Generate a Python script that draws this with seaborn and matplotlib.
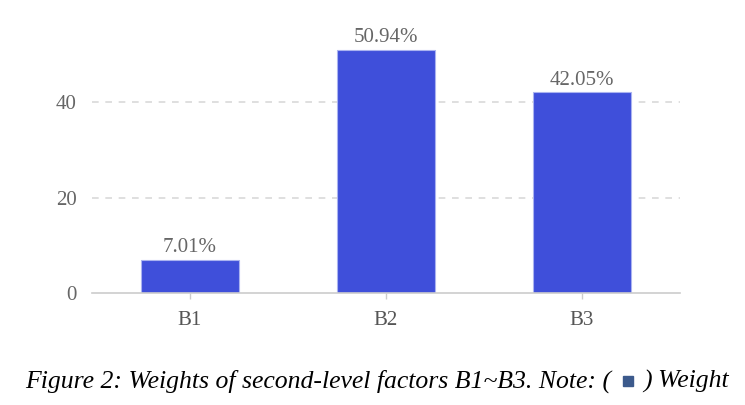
import matplotlib
matplotlib.use("Agg")
import matplotlib.pyplot as plt
import seaborn as sns
import pandas as pd

categories = ["B1", "B2", "B3"]
weights = [7.01, 50.94, 42.05]
labels = ["7.01%", "50.94%", "42.05%"]
yticks = [0, 20, 40]

sns.set_theme(style="white")
plt.rcParams['font.family'] = ['Liberation Serif', 'DejaVu Serif']

fig = plt.figure(figsize=(7.45, 4.05), dpi=100)
ax = fig.add_axes([92/745, 1-293/405, 588/745, (293-20)/405])

df = pd.DataFrame({"cat": categories, "w": weights})
bar_color = "#3f4fda"
sns.barplot(data=df, x="cat", y="w", color=bar_color, saturation=1, width=0.5,
            edgecolor="#aab3f0", linewidth=0.8, ax=ax)

ax.set_xlim(-0.5, 2.5)
ax.set_ylim(0, 57.2)
ax.set_yticks(yticks)
ax.set_yticklabels([str(v) for v in yticks], color="#666666", fontsize=15)
ax.set_xticks(range(len(categories)))
ax.set_xticklabels(categories, color="#555555", fontsize=15)
ax.set_xlabel("")
ax.set_ylabel("")
for y in yticks[1:]:
    ax.axhline(y, color="#d9d9d9", linestyle=(0, (4, 4)), linewidth=1.2, zorder=0)
for s in ["top", "right", "left"]:
    ax.spines[s].set_visible(False)
ax.spines["bottom"].set_color("#cccccc")
ax.spines["bottom"].set_linewidth(1.2)
ax.tick_params(axis="x", length=4, color="#cccccc", width=1, pad=9, bottom=True)
ax.tick_params(axis="y", length=0, pad=11)

for i, (v, lab) in enumerate(zip(weights, labels)):
    ax.text(i, v + 0.5, lab, ha="center", va="bottom", color="#666666", fontsize=15)

# caption
fig.canvas.draw()
r = fig.canvas.get_renderer()
cap_y = 1 - 381/405
x0 = 25/745
t1 = fig.text(x0, cap_y, "Figure 2: Weights of second-level factors B1~B3. Note: (",
              style="italic", fontsize=18.5, color="black", va="center", ha="left")
bb = t1.get_window_extent(renderer=r)
xs = bb.x1 / fig.bbox.width
sq_w = 10/745
sq_h = 10/405
fig.patches.append(plt.Rectangle((xs + 12/745, cap_y - sq_h/2), sq_w, sq_h,
                                 transform=fig.transFigure, color="#3c5a8c", figure=fig))
fig.text(xs + 32/745, cap_y, ") Weight", style="italic", fontsize=18.5,
         color="black", va="center", ha="left")

fig.savefig("out.png", dpi=100)
